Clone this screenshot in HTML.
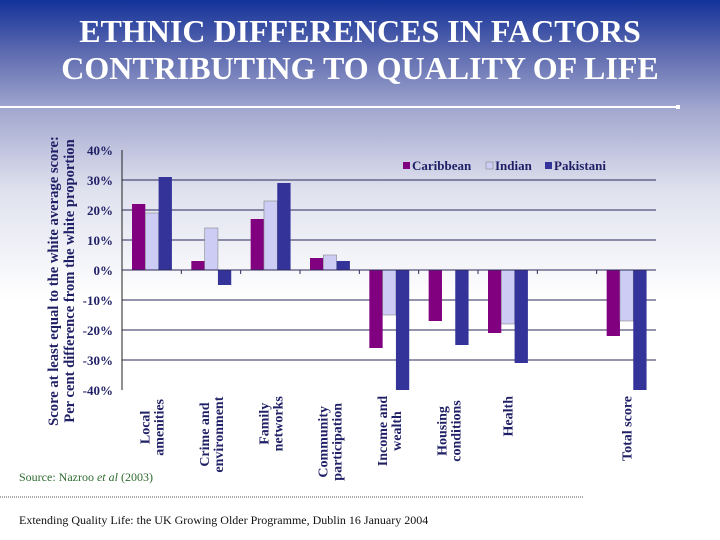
<!DOCTYPE html>
<html><head><meta charset="utf-8"><style>
body{margin:0}
#slide{position:relative;width:720px;height:540px;overflow:hidden;background:linear-gradient(#13329a 0px,#5a68ae 50px,#a3a8cf 110px,#dfe1ee 190px,#ffffff 300px,#ffffff 540px);font-family:"Liberation Serif",serif}
h1{position:absolute;top:13px;left:0;width:720px;margin:0;text-align:center;color:#fff;font-size:32px;line-height:37px;font-weight:bold;letter-spacing:0px}
</style></head><body>
<div id="slide">
<h1>ETHNIC DIFFERENCES IN FACTORS<br>CONTRIBUTING TO QUALITY OF LIFE</h1>
<svg id="chart" width="720" height="540" style="position:absolute;left:0;top:0">
<line x1="0" y1="107" x2="678" y2="107" stroke="#fff" stroke-width="2"/>
<rect x="676" y="105" width="4" height="4" fill="#fff"/>
<line x1="0" y1="497" x2="583" y2="497" stroke="#555" stroke-width="1" stroke-dasharray="1,1"/>
<text x="19" y="481" font-size="12" fill="#2e6b2e">Source: Nazroo <tspan font-style="italic">et al</tspan> (2003)</text>
<text x="19" y="524" font-size="12" fill="#111">Extending Quality Life: the UK Growing Older Programme, Dublin 16 January 2004</text>
<g transform="translate(58,281) rotate(-90)" font-size="14.6" font-weight="bold" fill="#1f1f66" text-anchor="middle">
<text x="0" y="0">Score at least equal to the white average score:</text>
<text x="0" y="16">Per cent difference from the white proportion</text>
</g>
<g id="legend" font-size="13" font-weight="bold" fill="#1f1f66">
<rect x="403" y="162" width="7" height="7" fill="#800080"/>
<text x="412" y="170">Caribbean</text>
<rect x="486" y="162" width="7" height="7" fill="#ccccf5" stroke="#888" stroke-width="0.6"/>
<text x="495" y="170">Indian</text>
<rect x="545" y="162" width="7" height="7" fill="#333399"/>
<text x="554" y="170">Pakistani</text>
</g>
</svg>
</div>
<script>
const categories=[["Local","amenities"],["Crime and","environment"],["Family","networks"],["Community","participation"],["Income and","wealth"],["Housing","conditions"],["Health"],[""],["Total score"]];
const caribbean=[22,3,17,4,-26,-17,-21,null,-22];
const indian=[19,14,23,5,-15,null,-18,null,-17];
const pakistani=[31,-5,29,3,-40,-25,-31,null,-40];
const yTicks=[40,30,20,10,0,-10,-20,-30,-40];
const seriesNames=["caribbean","indian","pakistani"];
const seriesColors=["#800080","#ccccf5","#333399"];

const svg=document.getElementById('chart');
const NS='http://www.w3.org/2000/svg';
const X0=122,X1=656,Y0=150,Y1=390,YMAX=40,YMIN=-40;
const slotW=(X1-X0)/categories.length;
function y(v){return Y0+(YMAX-v)/(YMAX-YMIN)*(Y1-Y0);}
function xSlot(i){return X0+i*slotW;}
function mk(tag,attrs){const e=document.createElementNS(NS,tag);for(const k in attrs)e.setAttribute(k,attrs[k]);svg.appendChild(e);return e;}

yTicks.forEach(t=>{
  if(t!==40&&t>-40&&t!==0){
    const g=mk('line',{x1:X0,x2:X1,y1:y(t),y2:y(t),stroke:'#2a2a5a','stroke-width':1});
    
    
  }
  const lb=mk('text',{x:X0-9,y:y(t)+5,'text-anchor':'end','font-size':13,'font-weight':'bold',fill:'#1f1f66'});
  lb.textContent=t+'%';
  
  
});
const ax=mk('line',{x1:X0,x2:X0,y1:Y0,y2:Y1,stroke:'#222','stroke-width':1});



const series=[caribbean,indian,pakistani];
const bw=13.3;
series.forEach((s,si)=>{
  s.forEach((v,i)=>{
    if(v===null)return;
    const x=xSlot(i)+10+si*bw;
    const top=Math.min(y(v),y(0)),h=Math.abs(y(v)-y(0));
    const r=mk('rect',{x:x,y:top,width:bw,height:h,fill:seriesColors[si]});
    if(si===1){r.setAttribute('stroke','#888');r.setAttribute('stroke-width','0.6');}
    
    
  });
});
const zl=mk('line',{x1:X0,x2:X1,y1:y(0),y2:y(0),stroke:'#2a2a5a','stroke-width':1});


for(let i=1;i<categories.length;i++){
  const tk=mk('line',{x1:xSlot(i),x2:xSlot(i),y1:y(0),y2:y(0)+4,stroke:'#2a2a5a'});
  
  
}
categories.forEach((c,i)=>{
  const cx=xSlot(i)+slotW/2;
  const n=c.length;
  c.forEach((line,li)=>{
    const off=(li-(n-1)/2)*14+5;
    const t=mk('text',{transform:`translate(${cx+off},396) rotate(-90)`,'text-anchor':(n===1?'end':'middle'),'font-size':14,'font-weight':'bold',fill:'#1f1f66'});
    if(n>1){t.setAttribute('transform',`translate(${cx+off},${395+((c[0].length>c[1].length?c[0]:c[1]).length*3.6)}) rotate(-90)`);}
    t.textContent=line;
    
    
  });
});
</script>
</body></html>
